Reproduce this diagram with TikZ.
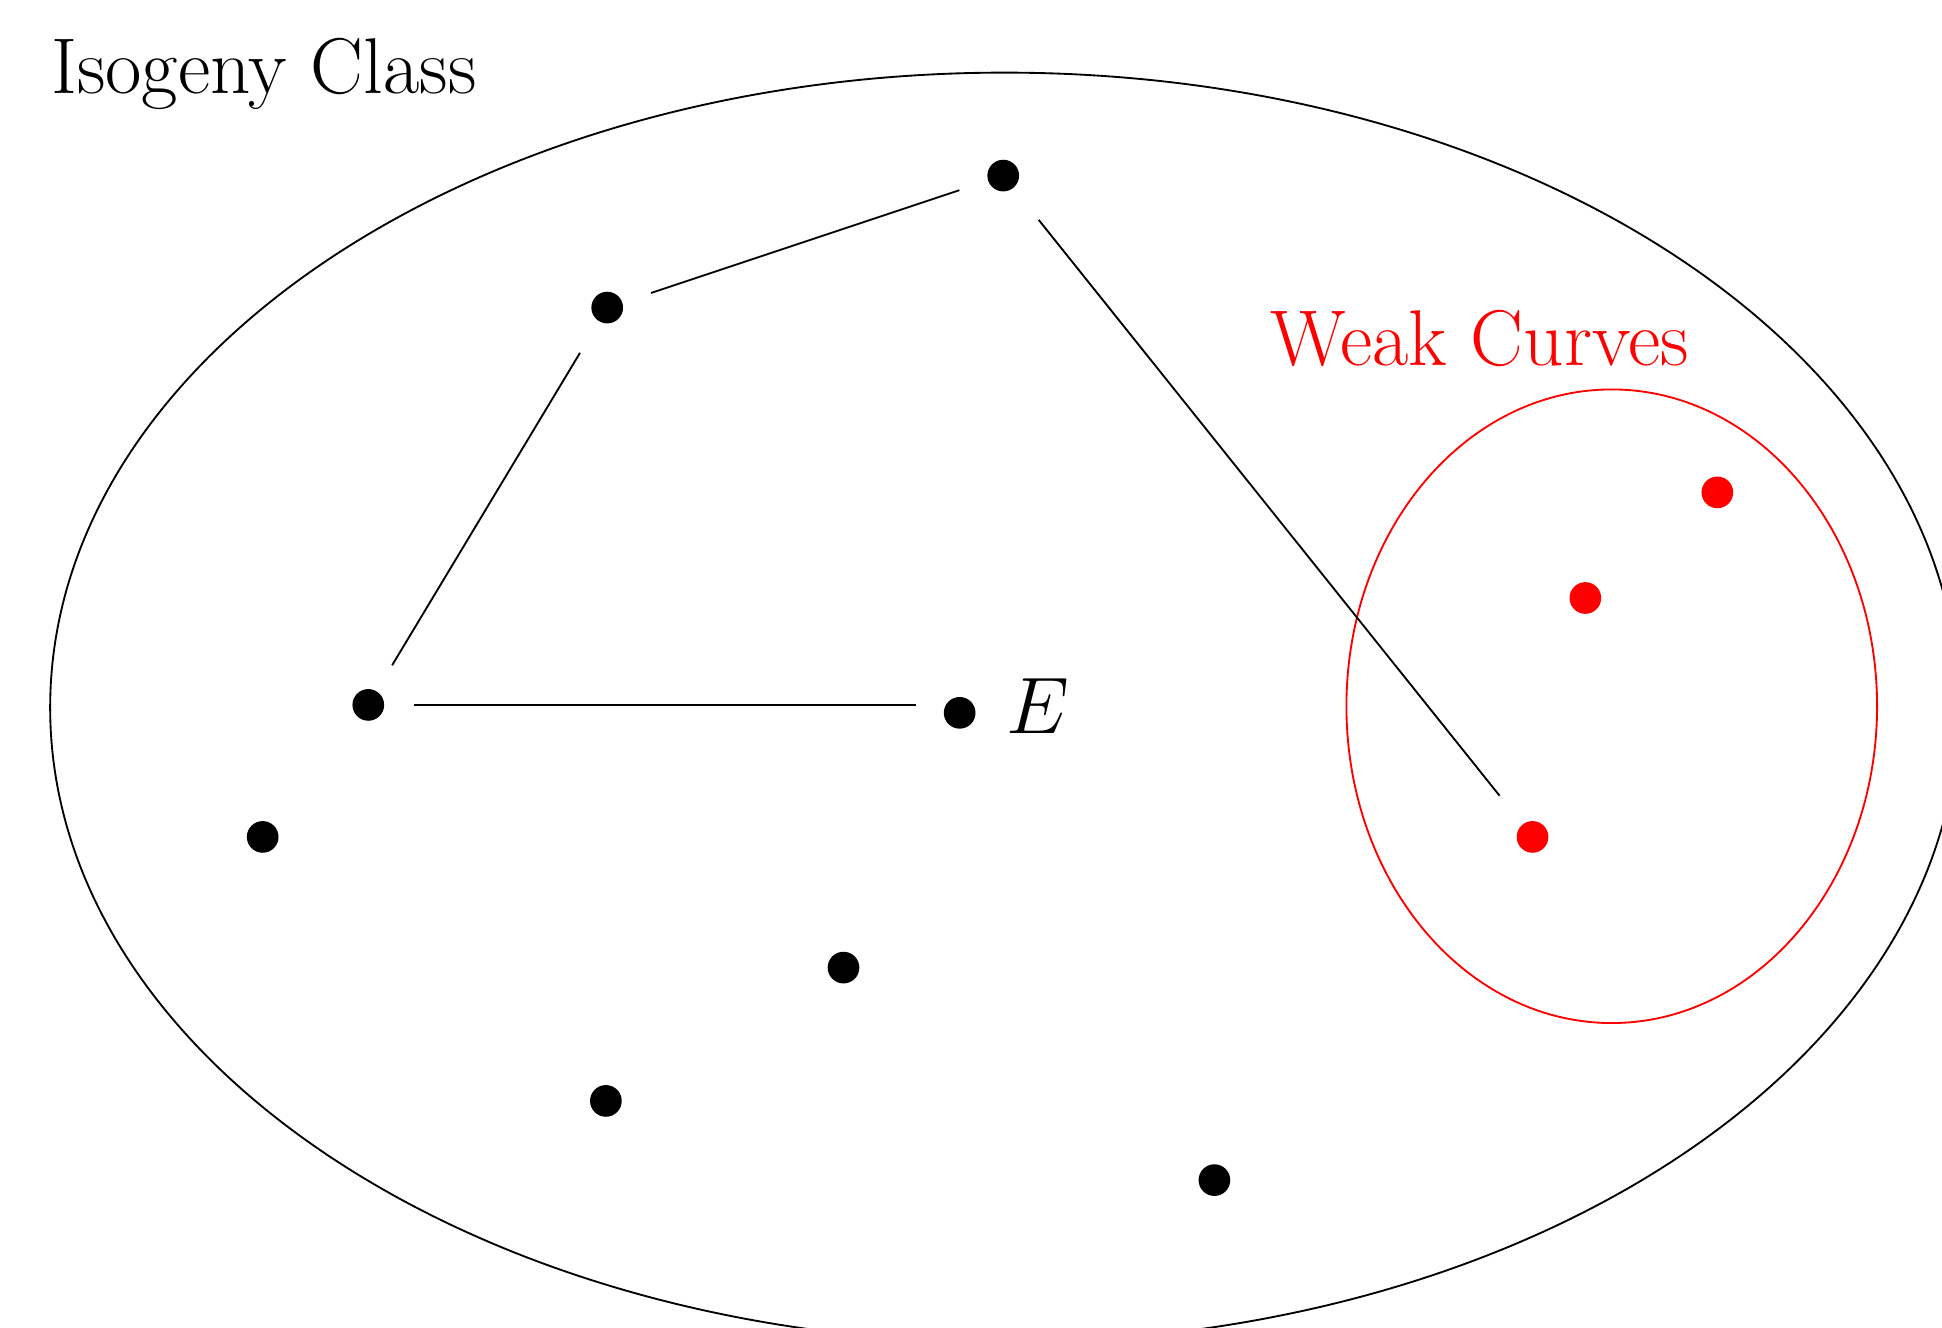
\documentclass[tikz,border=0pt]{standalone}
\usepackage{tikz}
\usetikzlibrary{positioning}

\begin{document}
\begin{tikzpicture}[
    dot/.style={
      circle, fill=black, draw=none, inner sep=0pt, outer sep=0pt,
      minimum size=0.24cm
    },
    weakdot/.style={dot, fill=red},
    lbl/.style={inner sep=0pt, font=\fontsize{17.05}{20}\selectfont},
    isog/.style={-, black, shorten >=0.23cm, shorten <=0.23cm},
  ]
    \useasboundingbox (0,0) rectangle (14.712,-10.053);

    % the two classes
    \draw[black] (7.61,-5.36) ellipse [x radius=7.23cm, y radius=4.81cm];
    \draw[red] (12.21,-5.35) ellipse [x radius=2.01cm, y radius=2.40cm];
    \node[lbl, anchor=base west] (iso) at (0.38,-0.705) {Isogeny Class};
    \node[lbl, anchor=base west, text=red] (weak) at (9.62,-2.77) {Weak Curves};

    % curves
    \node[dot] (t) at (7.60,-1.33) {};
    \node[dot] (a) at (4.60,-2.33) {};
    \node[dot] (b) at (2.79,-5.34) {};
    \node[dot] (e) at (7.27,-5.40) {};
    \node[dot] (c) at (1.99,-6.34) {};
    \node[dot] (d) at (6.39,-7.33) {};
    \node[dot] (f) at (4.59,-8.34) {};
    \node[dot] (g) at (9.20,-8.94) {};
    \node[weakdot] (w1) at (13.01,-3.73) {};
    \node[weakdot] (w2) at (12.01,-4.53) {};
    \node[weakdot] (w3) at (11.61,-6.34) {};
    \node[lbl, anchor=base west] (elbl) at (7.62,-5.553) {$E$};

    % isogenies
    \draw[isog, shorten >=0.33cm] (b) -- (b -| e);
    \draw[isog, shorten >=0.28cm] (b) -- (a);
    \draw[isog] (a) -- (t);
    \draw[isog, shorten >=0.28cm, shorten <=0.31cm] (t) -- (w3);
  \end{tikzpicture}
\end{document}
